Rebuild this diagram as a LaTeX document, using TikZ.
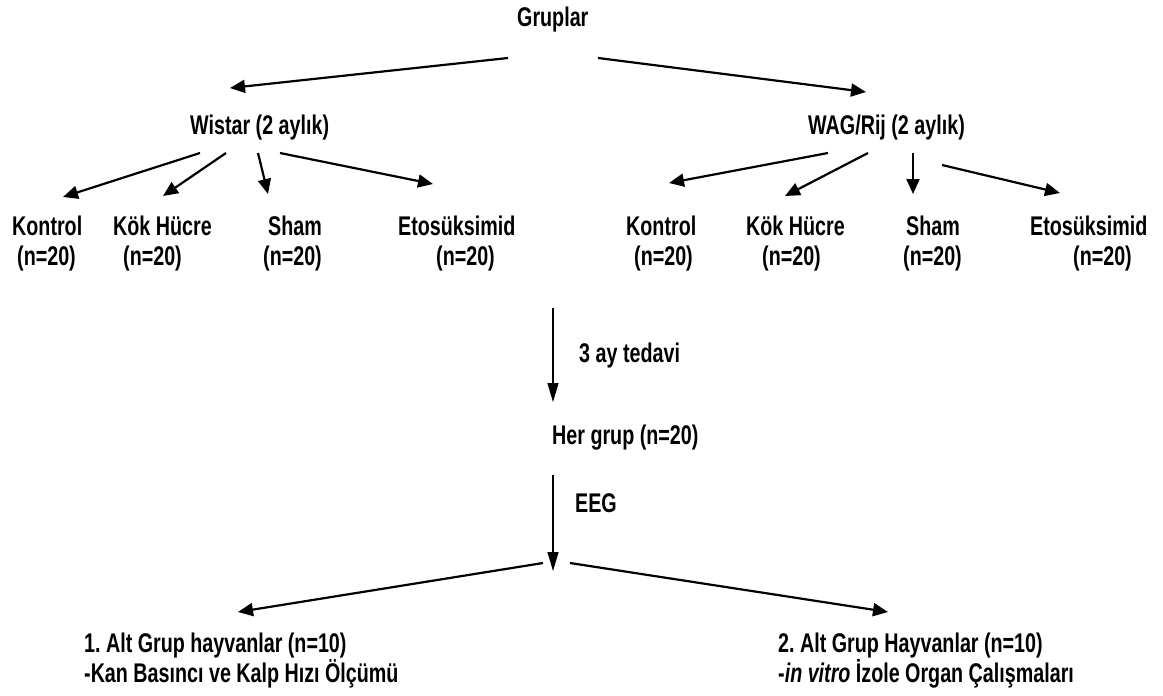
\documentclass[tikz,border=0pt]{standalone}
\usepackage{fontspec}
\setmainfont{Liberation Sans}[FakeStretch=0.73]
\usetikzlibrary{arrows.meta,calc}
\frenchspacing
\tikzset{
  lbl/.style={anchor=base west, inner sep=0pt, font=\fontsize{27}{30}\selectfont\bfseries},
  arr/.style={-{Triangle[length=15pt,width=13pt]}, line width=2.2pt},
  varr/.style={-{Triangle[length=19pt,width=11pt]}, line width=1.2pt}
}
\begin{document}
\begin{tikzpicture}[x=1pt,y=-1pt]
\path[use as bounding box, fill=white] (0,0) rectangle (1163,696);
% top
\node[lbl] (gr) at (517,27) {Gruplar};
\node[lbl] (wis) at (190,134) {Wistar (2 aylık)};
\node[lbl] (wag) at (808,134) {WAG/Rij (2 aylık)};
% left row
\node[lbl] (k1) at (12,235) {Kontrol};
\node[lbl] (k1n) at (17,265) {(n=20)};
\node[lbl] (h1) at (113,235) {Kök Hücre};
\node[lbl] (h1n) at (123,265) {(n=20)};
\node[lbl] (s1) at (268,235) {Sham};
\node[lbl] (s1n) at (263,265) {(n=20)};
\node[lbl] (e1) at (398,235) {Etosüksimid};
\node[lbl] (e1n) at (436,265) {(n=20)};
% right row
\node[lbl] (k2) at (626,235) {Kontrol};
\node[lbl] (k2n) at (634,265) {(n=20)};
\node[lbl] (h2) at (746,235) {Kök Hücre};
\node[lbl] (h2n) at (762,265) {(n=20)};
\node[lbl] (s2) at (906,235) {Sham};
\node[lbl] (s2n) at (903,265) {(n=20)};
\node[lbl] (e2) at (1030,235) {Etosüksimid};
\node[lbl] (e2n) at (1073,265) {(n=20)};
% middle
\coordinate (top) at (553,308);
\node[lbl] (tedavi) at (579,362) {3 ay tedavi};
\node[lbl] (her) at (552,444) {Her grup (n=20)};
\node[lbl] (eeg) at (575,512) {EEG};
\coordinate (split) at (553,571);
% bottom
\node[lbl] (alt1) at (84,652) {1. Alt Grup hayvanlar (n=10)};
\node[lbl] (alt1b) at (84,682) {-Kan Basıncı ve Kalp Hızı Ölçümü};
\node[lbl] (alt2) at (778,652) {2. Alt Grup Hayvanlar (n=10)};
\node[lbl] (alt2b) at (778,682) {-\textit{in vitro} İzole Organ Çalışmaları};
% arrows top
\draw[arr] ($(gr.base west)+(-9,31)$) -- ($(wis.base west)+(40,-46)$);
\draw[arr] ($(gr.base west)+(81,31)$) -- ($(wag.base west)+(58,-42)$);
% wistar children
\draw[arr] ($(wis.base west)+(10,19)$) -- ($(k1.base west)+(51,-38)$);
\draw[arr] ($(wis.base west)+(36,19)$) -- ($(h1.base west)+(50,-39)$);
\draw[arr] ($(wis.base west)+(68,19)$) -- ($(s1.base west)+(0,-41)$);
\draw[arr] ($(wis.base west)+(90,19)$) -- ($(e1.base west)+(35,-51)$);
% wag children
\draw[arr] ($(wag.base west)+(20,19)$) -- ($(k2.base west)+(43,-52)$);
\draw[arr] ($(wag.base west)+(60,19)$) -- ($(h2.base west)+(39,-39)$);
\draw[arr] ($(wag.base west)+(105,19)$) -- ($(s2.base west)+(7,-41)$);
\draw[arr] ($(wag.base west)+(134,31)$) -- ($(e2.base west)+(30,-42)$);
% middle verticals
\draw[varr] (top) -- ($(her.base west)+(1,-42)$);
\draw[varr] ($(her.base west)+(1,31)$) -- (split);
% bottom split
\draw[arr] ($(split)+(-10,-8)$) -- ($(alt1.base west)+(154,-40)$);
\draw[arr] ($(split)+(17,-8)$) -- ($(alt2.base west)+(110,-40)$);
\end{tikzpicture}
\end{document}
